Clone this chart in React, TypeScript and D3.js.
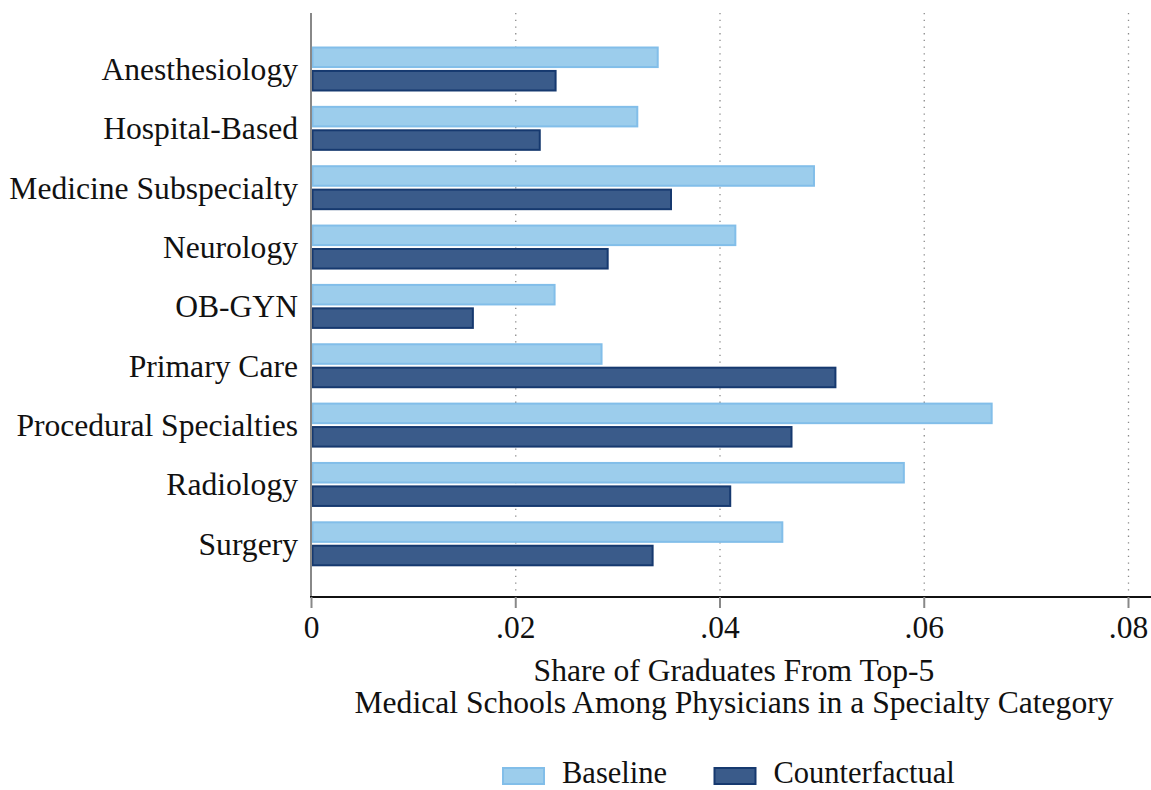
import React from "react";
import * as d3 from "d3";

const categories = [
  "Anesthesiology",
  "Hospital-Based",
  "Medicine Subspecialty",
  "Neurology",
  "OB-GYN",
  "Primary Care",
  "Procedural Specialties",
  "Radiology",
  "Surgery",
];
const baseline = [0.034, 0.032, 0.0493, 0.0416, 0.0239, 0.0285, 0.0667, 0.0581, 0.0462];
const counterfactual = [0.024, 0.02245, 0.0353, 0.0291, 0.0159, 0.0514, 0.0471, 0.0411, 0.0335];
const seriesNames = ["Baseline", "Counterfactual"];
const xTicks = [0, 0.02, 0.04, 0.06, 0.08];
const tickLabels = ["0", ".02", ".04", ".06", ".08"];

const W = 1151;
const H = 790;
const FONT = "'Liberation Serif', 'Times New Roman', serif";
const fills = ["#9ccdec", "#3a5b8a"];
const strokes = ["#82bee9", "#16396f"];

export default function App() {
  const x = d3.scaleLinear().domain([0, 0.08]).range([311.5, 1128.5]);
  const step = 59.35;
  const c0 = 69;
  const y = d3
    .scaleBand<string>()
    .domain(categories)
    .range([c0 - step / 2, c0 + 8 * step + step / 2])
    .paddingInner(0.242)
    .paddingOuter(0.121);
  const yi = d3
    .scaleBand<string>()
    .domain(seriesNames)
    .range([0, y.bandwidth()])
    .paddingInner(0.08);
  const plotTop = 13;
  const axisY = 597;
  const values = [baseline, counterfactual];

  return (
    <svg
      width={W}
      height={H}
      style={{ position: "absolute", left: 0, top: 0, background: "#fff" }}
      fontFamily={FONT}
    >
      <rect x={0} y={0} width={W} height={H} fill="#fff" />
      {/* gridlines */}
      {xTicks.slice(1).map((t) => (
        <line
          key={"g" + t}
          x1={x(t)}
          x2={x(t)}
          y1={plotTop}
          y2={axisY}
          stroke="#8a8a8a"
          strokeWidth={1.3}
          strokeDasharray="1.3 5.4"
        />
      ))}
      {/* bars */}
      {categories.map((cat, i) => (
        <g key={cat} transform={`translate(0,${y(cat)})`}>
          {seriesNames.map((s, k) => (
            <rect
              key={s}
              x={x(0) + 1}
              y={(yi(s) as number) + 1}
              width={x(values[k][i]) - x(0) - 2}
              height={yi.bandwidth() - 2}
              fill={fills[k]}
              stroke={strokes[k]}
              strokeWidth={2}
            />
          ))}
        </g>
      ))}
      {/* category labels */}
      {categories.map((cat) => (
        <text
          key={"l" + cat}
          x={298}
          y={(y(cat) as number) + y.bandwidth() / 2 + 11}
          textAnchor="end"
          fontSize={31.6}
          fill="#111"
        >
          {cat}
        </text>
      ))}
      {/* left axis */}
      <line x1={311} x2={311} y1={plotTop} y2={axisY} stroke="#888" strokeWidth={2} />
      {/* bottom axis */}
      <line x1={310} x2={W} y1={axisY} y2={axisY} stroke="#111" strokeWidth={2} />
      {xTicks.map((t, i) => (
        <g key={"t" + t}>
          <line x1={x(t)} x2={x(t)} y1={axisY} y2={axisY + 11} stroke="#888" strokeWidth={2} />
          <text x={x(t)} y={axisY + 41} textAnchor="middle" fontSize={31.5} fill="#111">
            {tickLabels[i]}
          </text>
        </g>
      ))}
      {/* axis title */}
      <text x={734} y={681} textAnchor="middle" fontSize={31.6} fill="#111">
        Share of Graduates From Top-5
      </text>
      <text x={734} y={713} textAnchor="middle" fontSize={31.6} fill="#111">
        Medical Schools Among Physicians in a Specialty Category
      </text>
      {/* legend */}
      {seriesNames.map((s, k) => {
        const lx = [502, 713.5][k];
        return (
          <g key={"leg" + s}>
            <rect
              x={lx + 1}
              y={768}
              width={41}
              height={16}
              fill={fills[k]}
              stroke={strokes[k]}
              strokeWidth={2}
            />
            <text x={lx + 60} y={783} fontSize={30.5} fill="#111">
              {s}
            </text>
          </g>
        );
      })}
    </svg>
  );
}
